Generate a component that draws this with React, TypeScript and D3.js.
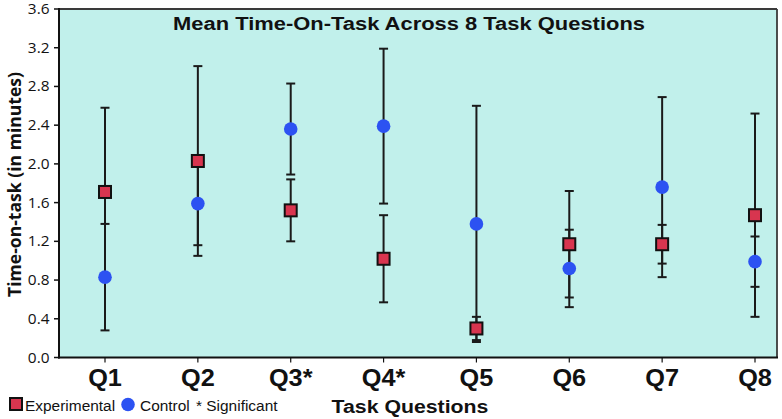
import React from "react";
import * as d3 from "d3";

const categories = ["Q1", "Q2", "Q3*", "Q4*", "Q5", "Q6", "Q7", "Q8"];
const expMean = [1.71, 2.03, 1.52, 1.02, 0.3, 1.17, 1.17, 1.47];
const expErr = [0.87, 0.98, 0.32, 0.45, 0.12, 0.55, 0.2, 1.05];
const ctrlMean = [0.83, 1.59, 2.36, 2.39, 1.38, 0.92, 1.76, 0.99];
const ctrlErr = [0.55, 0.43, 0.47, 0.8, 1.22, 0.4, 0.93, 0.26];
const yTicks = [0, 0.4, 0.8, 1.2, 1.6, 2.0, 2.4, 2.8, 3.2, 3.6];

const W = 782;
const H = 419;
const left = 59;
const right = 777;
const top = 9;
const bottom = 357.5;

const SANS = "'Liberation Sans', Arial, Helvetica, sans-serif";
const HUM = "'Open Sans', 'Noto Sans', sans-serif";

function SText(props: {
  x: number;
  y: number;
  sx?: number;
  anchor?: string;
  size: number;
  weight?: string | number;
  family?: string;
  children: React.ReactNode;
}) {
  const { x, y, sx = 1, anchor = "start", size, weight = "normal", family = SANS, children } = props;
  return (
    <text
      transform={`translate(${x},${y}) scale(${sx},1)`}
      textAnchor={anchor}
      fontSize={size}
      fontWeight={weight}
      fontFamily={family}
      fill="#111"
    >
      {children}
    </text>
  );
}

export default function App() {
  const x = d3.scalePoint<string>().domain(categories).range([105, 755]);
  const y = d3.scaleLinear().domain([0, 3.6]).range([bottom, top]);
  const fmt = d3.format(".1f");
  const capW = 9;
  const sq = 12;

  const bar = (cx: number, m: number, e: number, key: string) => (
    <g key={key} stroke="#1a1a1a" strokeWidth={2} fill="none">
      <line x1={cx} x2={cx} y1={y(m - e)} y2={y(m + e)} />
      <line x1={cx - capW / 2} x2={cx + capW / 2} y1={y(m - e)} y2={y(m - e)} />
      <line x1={cx - capW / 2} x2={cx + capW / 2} y1={y(m + e)} y2={y(m + e)} />
    </g>
  );

  return (
    <svg
      width={W}
      height={H}
      style={{ position: "absolute", left: 0, top: 0, background: "#fff" }}
    >
      <rect x={left} y={top} width={right - left} height={bottom - top} fill="#c1f0eb" />
      <line x1={left} x2={right} y1={top} y2={top} stroke="#3a3a3a" strokeWidth={1.8} />
      <line x1={right} x2={right} y1={top} y2={bottom} stroke="#3a3a3a" strokeWidth={1.8} />

      {categories.map((c, i) => bar(x(c)!, expMean[i], expErr[i], "e" + i))}
      {categories.map((c, i) => bar(x(c)!, ctrlMean[i], ctrlErr[i], "c" + i))}

      {categories.map((c, i) => (
        <rect
          key={"sq" + i}
          x={x(c)! - sq / 2}
          y={y(expMean[i]) - sq / 2}
          width={sq}
          height={sq}
          fill="#d8354f"
          stroke="#111"
          strokeWidth={2}
        />
      ))}
      {categories.map((c, i) => (
        <circle key={"ci" + i} cx={x(c)!} cy={y(ctrlMean[i])} r={6.8} fill="#2c52f2" />
      ))}

      <line x1={left} x2={left} y1={top - 1} y2={bottom + 1} stroke="#111" strokeWidth={2} />
      <line x1={left - 1} x2={right + 1} y1={bottom} y2={bottom} stroke="#111" strokeWidth={2} />
      {yTicks.map((t) => (
        <g key={"yt" + t}>
          <line x1={left - 5} x2={left} y1={y(t)} y2={y(t)} stroke="#111" strokeWidth={1.5} />
          <SText x={49.5} y={y(t) + 5} anchor="end" size={14} sx={1.1} family={HUM}>
            {fmt(t)}
          </SText>
        </g>
      ))}
      {categories.map((c) => (
        <g key={"xt" + c}>
          <line x1={x(c)!} x2={x(c)!} y1={bottom} y2={bottom + 5} stroke="#111" strokeWidth={1.2} />
          <SText x={x(c)!} y={386} anchor="middle" size={23} sx={1.1} weight="bold">
            {c}
          </SText>
        </g>
      ))}

      <text
        x={409}
        y={30}
        textAnchor="middle"
        fontSize={18}
        fontWeight="bold"
        fontFamily={SANS}
        textLength={472}
        lengthAdjust="spacingAndGlyphs"
        fill="#111"
      >
        Mean Time-On-Task Across 8 Task Questions
      </text>

      <text
        transform={`translate(21,184.5) rotate(-90)`}
        textAnchor="middle"
        fontSize={17}
        fontWeight="bold"
        fontFamily={HUM}
        textLength={225}
        lengthAdjust="spacingAndGlyphs"
        fill="#111"
      >
        Time-on-task (in minutes)
      </text>

      <SText x={410} y={413} anchor="middle" size={19} sx={1.12} weight="bold">
        Task Questions
      </SText>

      <rect x={10} y={398} width={12} height={12} fill="#d8354f" stroke="#111" strokeWidth={2} />
      <SText x={25} y={410.5} size={15} sx={1.03}>
        Experimental
      </SText>
      <circle cx={128} cy={404.5} r={6.8} fill="#2c52f2" />
      <SText x={140} y={410.5} size={15} sx={1.03}>
        Control
      </SText>
      <SText x={196} y={410.5} size={15} sx={1.03}>
        * Significant
      </SText>
    </svg>
  );
}
